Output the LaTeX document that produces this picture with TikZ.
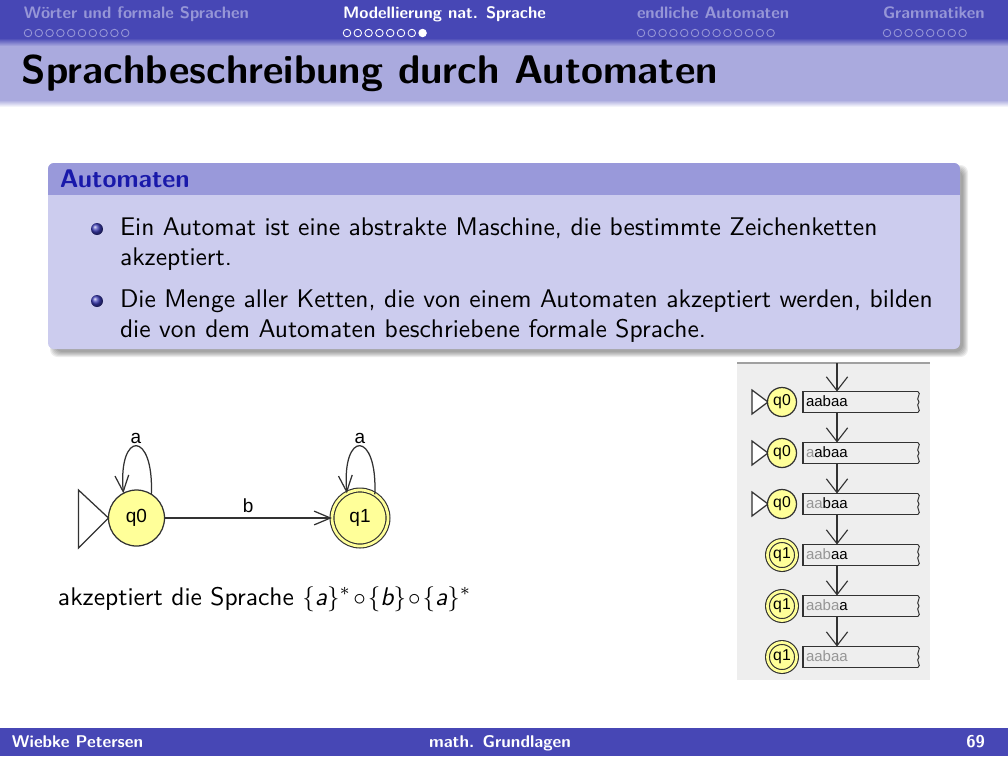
\documentclass[tikz,border=0pt]{standalone}
\usepackage{fontspec}
\newfontfamily\uifont{Liberation Sans}
\renewcommand\familydefault{\sfdefault}
\usetikzlibrary{arrows.meta}
\definecolor{barblue}{RGB}{71,71,181}
\definecolor{navdim}{RGB}{150,150,215}
\definecolor{titleband}{RGB}{170,170,222}
\definecolor{blocktitle}{RGB}{153,153,218}
\definecolor{blockbody}{RGB}{204,204,238}
\definecolor{structure}{RGB}{25,25,170}
\definecolor{statefill}{RGB}{255,255,153}
\definecolor{statedraw}{RGB}{50,50,50}
\definecolor{panelbg}{RGB}{238,238,238}
\definecolor{panelline}{RGB}{160,160,160}
\definecolor{tapegray}{RGB}{150,150,150}
\begin{document}
\begin{tikzpicture}[x=0.4pt,y=-0.4pt,
  every node/.style={inner sep=0pt, outer sep=0pt},
  navtext/.style={anchor=base west, font=\fontsize{6.65}{7.5}\selectfont\bfseries},
  navdot/.style={line width=0.35pt},
  bodytext/.style={anchor=base west, font=\fontsize{10.2}{12}\selectfont},
  foottext/.style={text=white, font=\fontsize{6.8}{7.5}\selectfont\bfseries},
  state/.style={circle, draw=statedraw, fill=statefill, line width=0.5pt,
    minimum size=22.4pt, font=\uifont\fontsize{7.6}{8}\selectfont},
  smallstate/.style={state, minimum size=11.6pt, font=\uifont\fontsize{6.3}{7}\selectfont},
  accepting/.style={double=statefill, double distance=1.1pt, line width=0.45pt},
  edgelabel/.style={font=\uifont\fontsize{7.6}{8}\selectfont},
  edge/.style={draw=statedraw, line width=0.5pt, -{Straight Barb[length=6.5pt,width=5.5pt]}},
  stepedge/.style={draw=statedraw, line width=0.45pt, -{Straight Barb[length=5.5pt,width=8.5pt]}},
  tape/.style={minimum width=46pt, minimum height=8.4pt},
  tapeline/.style={draw=statedraw, line width=0.5pt},
  starttri/.style={draw=statedraw, fill=white, line width=0.5pt, line join=miter},
]
\useasboundingbox (0,0) rectangle (1008,756);

% headline with section navigation
\fill[barblue] (0,0) rectangle (1008,38);
\shade[top color=barblue, bottom color=titleband] (0,38) rectangle (1008,46);
\fill[titleband] (0,46) rectangle (1008,100);
\shade[top color=titleband, bottom color=white] (0,100) rectangle (1008,107);

\node[navtext, text=navdim] (s1) at (24,18) {Wörter und formale Sprachen};
\node[navtext, text=white] (s2) at (343,18) {Modellierung nat. Sprache};
\node[navtext, text=navdim] (s3) at (637,18) {endliche Automaten};
\node[navtext, text=navdim] (s4) at (883,18) {Grammatiken};
\foreach \i in {0,...,9} \draw[navdot, draw=navdim] (28+10.8*\i,33) circle (1.5pt);
\foreach \i in {0,...,6} \draw[navdot, draw=white] (347+10.8*\i,33) circle (1.5pt);
\fill[white] (347+10.8*7,33) circle (1.7pt);
\foreach \i in {0,...,12} \draw[navdot, draw=navdim] (641+10.8*\i,33) circle (1.5pt);
\foreach \i in {0,...,7} \draw[navdot, draw=navdim] (887+10.8*\i,33) circle (1.5pt);

% frame title
\node[anchor=base west, font=\fontsize{16}{19}\selectfont\bfseries] (title) at (22,83)
  {Sprachbeschreibung durch Automaten};

% block with soft shadow
\foreach \e in {3,2,1,0,-1,-2}
  \fill[black, opacity=0.07, rounded corners=3pt] (53-\e,168-\e) rectangle (965+\e,354+\e);
\fill[blockbody, rounded corners=2.4pt] (48,163) rectangle (960,349);
\begin{scope}
  \clip[rounded corners=2.4pt] (48,163) rectangle (960,349);
  \fill[blocktitle] (48,163) rectangle (960,195);
\end{scope}
\node[bodytext, text=structure, font=\fontsize{10.2}{12}\selectfont\bfseries] (btitle) at (60,187) {Automaten};

\shade[ball color=structure!85] (97,229) circle (2.4pt);
\node[bodytext] (l1) at (120,235) {Ein Automat ist eine abstrakte Maschine, die bestimmte Zeichenketten};
\node[bodytext] (l2) at (120,265) {akzeptiert.};
\shade[ball color=structure!85] (97,301) circle (2.4pt);
\node[bodytext] (l3) at (120,307) {Die Menge aller Ketten, die von einem Automaten akzeptiert werden, bilden};
\node[bodytext] (l4) at (120,337) {die von dem Automaten beschriebene formale Sprache.};

% automaton
\node[state] (q0) at (136.5,518) {q0};
\node[state, accepting] (q1) at (360,518) {q1};
\draw[starttri] (q0.west) -- ++(-30,-28) -- ++(0,58) -- cycle;
\draw[edge] (q0) -- node[edgelabel, above=2.2pt] (lb) {b} (q1);
\draw[edge] (q0.58) .. controls (154,430) and (118,430) .. (q0.118);
\node[edgelabel] (la0) at (136,438) {a};
\draw[edge] (q1.58) .. controls (377.5,430) and (341.5,430) .. (q1.118);
\node[edgelabel] (la1) at (360,438) {a};

\node[bodytext] (cap) at (58,605)
  {\medmuskip=1.5mu akzeptiert die Sprache $\{\textit{a}\}^{*}\circ\{\textit{b}\}\circ\{\textit{a}\}^{*}$};

% step-by-step run on the input aabaa
\fill[panelbg] (737,363) rectangle (930,680);
\draw[panelline, line width=0.5pt] (737,363) -- (930,363);
\coordinate (top) at (837,363);
\foreach \k/\done/\rest/\ini in {0/{}/aabaa/1, 1/a/abaa/1, 2/aa/baa/1, 3/aab/aa/0, 4/aaba/a/0, 5/aabaa/{}/0} {
  \pgfmathsetmacro\cy{402+51*\k}
  \pgfmathtruncatemacro\prev{\k-1}
  \ifnum\ini=1
    \draw[starttri] (752,\cy-12) -- (768,\cy) -- (752,\cy+12) -- cycle;
    \node[smallstate] (r\k) at (782,\cy) {q0};
  \else
    \node[smallstate, accepting] (r\k) at (782,\cy) {q1};
  \fi
  \node[tape] (t\k) at (860.5,\cy) {};
  \draw[tapeline] (t\k.north east) -- (t\k.north west) -- (t\k.south west) -- (t\k.south east);
  \draw[tapeline, line width=0.4pt] (918,\cy-10.5) .. controls (922,\cy-8) and (915,\cy-4) .. (919,\cy)
     .. controls (915,\cy+4) and (922,\cy+8) .. (918,\cy+10.5);
  \node[anchor=base west, font=\uifont\fontsize{6}{7}\selectfont] (w\k) at (806,\cy+4.5)
     {\textcolor{tapegray}{\done}\rest};
  \ifnum\k=0
    \draw[stepedge] (top) -- (t0.north -| top);
  \else
    \draw[stepedge] (t\prev.south -| top) -- (t\k.north -| top);
  \fi
}

% footline
\fill[barblue] (0,728) rectangle (1008,756);
\node[foottext, anchor=base west] (author) at (12,747) {Wiebke Petersen};
\node[foottext, anchor=base] (talk) at (500,747) {math. Grundlagen};
\node[foottext, anchor=base east] (page) at (985,747) {69};
\end{tikzpicture}
\end{document}
